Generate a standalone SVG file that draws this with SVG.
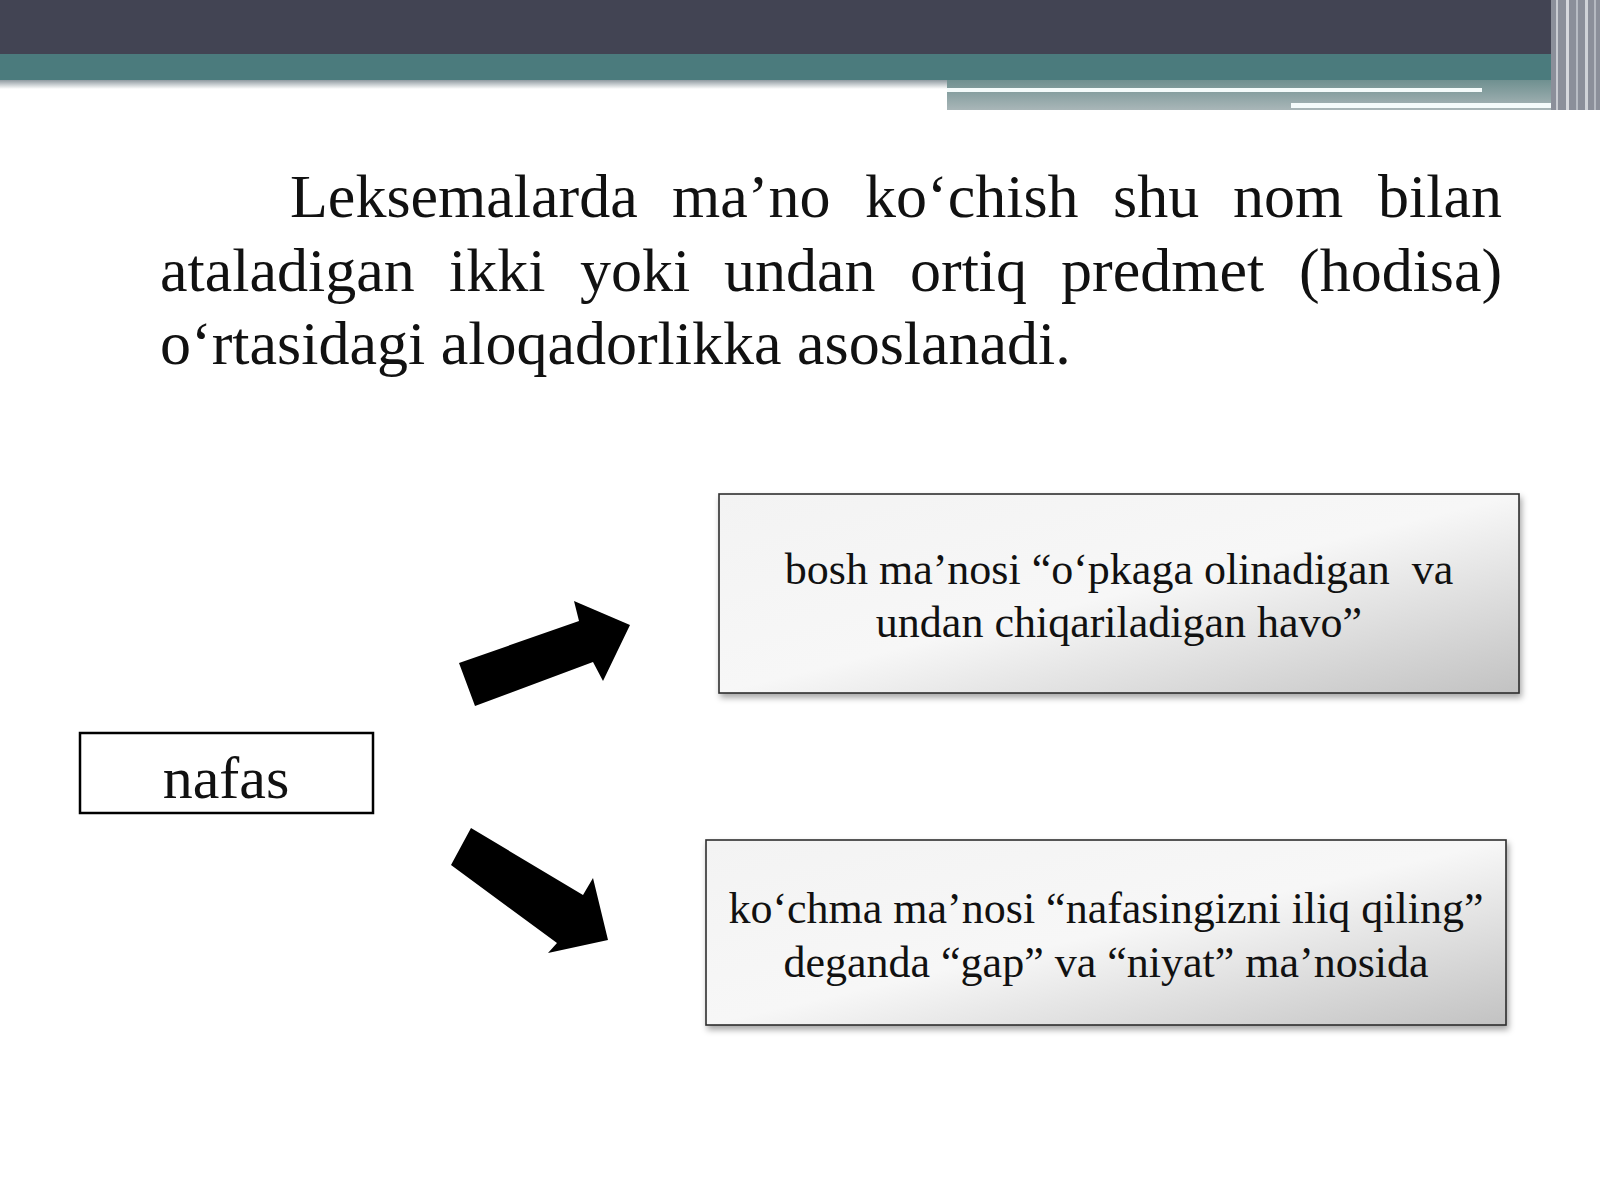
<svg xmlns="http://www.w3.org/2000/svg" width="1600" height="1200" viewBox="0 0 1600 1200">
  <defs>
    <style>
      .serif { font-family: "Liberation Serif", "Times New Roman", serif; fill: #111111; }
      .title { font-size: 62px; }
      .box-text { font-size: 44px; text-anchor: middle; }
      .gbox { fill: url(#boxGrad); stroke: #2e2e2e; stroke-width: 1.6; filter: url(#shadow); }
      .arrow { fill: #000000; }
    </style>
    <linearGradient id="boxGrad" x1="0" y1="0" x2="1" y2="1">
      <stop offset="0" stop-color="#f3f3f3"/>
      <stop offset="0.5" stop-color="#f7f7f7"/>
      <stop offset="1" stop-color="#c2c2c2"/>
    </linearGradient>
    <linearGradient id="rightBand" x1="0" y1="0" x2="0" y2="1">
      <stop offset="0" stop-color="#6f9090"/>
      <stop offset="1" stop-color="#a9b6b8"/>
    </linearGradient>
    <linearGradient id="leftFade" x1="0" y1="0" x2="0" y2="1">
      <stop offset="0" stop-color="#8f9aa0"/>
      <stop offset="1" stop-color="#ffffff"/>
    </linearGradient>
    <filter id="shadow" x="-5%" y="-5%" width="112%" height="120%">
      <feDropShadow dx="2" dy="4" stdDeviation="3" flood-color="#000000" flood-opacity="0.35"/>
    </filter>
  </defs>

  <rect x="0" y="0" width="1600" height="1200" fill="#ffffff"/>

  <g id="header">
    <rect x="0" y="0" width="1600" height="54" fill="#424453"/>
    <rect x="0" y="54" width="1600" height="26" fill="#4b7b7d"/>
    <rect x="0" y="80" width="947" height="9" fill="url(#leftFade)"/>
    <rect x="947" y="80" width="621" height="30" fill="url(#rightBand)"/>
    <rect x="947" y="88" width="535" height="4" fill="#f4fbfb"/>
    <rect x="1291" y="103" width="276" height="5" fill="#f4fbfb"/>
    <rect x="1551" y="0" width="49" height="110" fill="#8b8f9a"/>
    <rect x="1556" y="0" width="2" height="110" fill="#c9ccd2"/>
    <rect x="1566" y="0" width="3" height="110" fill="#d6d8dd"/>
    <rect x="1576" y="0" width="2" height="110" fill="#b8bcc4"/>
    <rect x="1585" y="0" width="3" height="110" fill="#d0d3d8"/>
    <rect x="1594" y="0" width="2" height="110" fill="#b5b9c1"/>
  </g>

  <g id="title" class="serif title">
    <text y="217">
      <tspan x="290">Leksemalarda</tspan><tspan x="672">ma’no</tspan><tspan x="865">ko‘chish</tspan><tspan x="1113">shu</tspan><tspan x="1233">nom</tspan><tspan x="1378">bilan</tspan>
    </text>
    <text y="291">
      <tspan x="160">ataladigan</tspan><tspan x="449">ikki</tspan><tspan x="580">yoki</tspan><tspan x="724">undan</tspan><tspan x="910">ortiq</tspan><tspan x="1061">predmet</tspan><tspan x="1299">(hodisa)</tspan>
    </text>
    <text x="160" y="364">o‘rtasidagi aloqadorlikka asoslanadi.</text>
  </g>

  <g id="node-nafas">
    <rect x="80" y="733" width="293" height="80" fill="#ffffff" stroke="#000000" stroke-width="2.5"/>
    <text class="serif" x="226" y="798" font-size="60" text-anchor="middle">nafas</text>
  </g>

  <g id="node-bosh">
    <rect class="gbox" x="719" y="494" width="800" height="199"/>
    <text class="serif box-text" x="1119" y="584" xml:space="preserve">bosh ma’nosi “o‘pkaga olinadigan  va</text>
    <text class="serif box-text" x="1119" y="637">undan chiqariladigan havo”</text>
  </g>

  <g id="node-kochma">
    <rect class="gbox" x="706" y="840" width="800" height="185"/>
    <text class="serif box-text" x="1106" y="923">ko‘chma ma’nosi “nafasingizni iliq qiling”</text>
    <text class="serif box-text" x="1106" y="977">deganda “gap” va “niyat” ma’nosida</text>
  </g>

  <g id="connectors">
    <polygon class="arrow" points="459,663 579,621 574,601 630,625 603,681 593,662 475,706"/>
    <polygon class="arrow" points="471,828 583,895 593,878 608,940 548,953 557,943 451,865"/>
  </g>
</svg>
